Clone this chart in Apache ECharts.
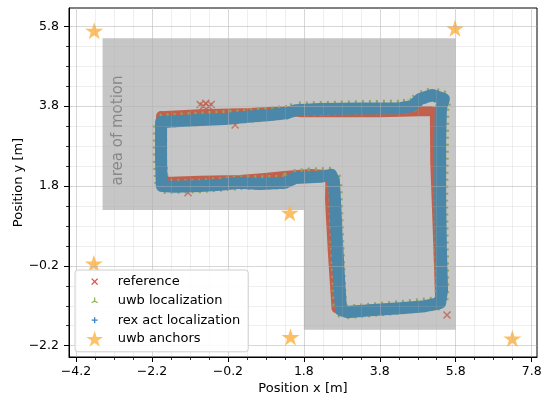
<!DOCTYPE html>
<html>
<head>
<meta charset="utf-8">
<script src="https://cdn.jsdelivr.net/npm/echarts@6/dist/echarts.min.js"></script>
<style>
  html, body { margin: 0; padding: 0; background: #fff; }
  #chart { width: 546px; height: 403px; }
</style>
</head>
<body>
<div id="chart"></div>
<script>
// Axis ranges and tick positions [m]
const xRange = [-4.384, 7.94];
const yRange = [-2.483, 6.258];
const xMajorTicks = [-4.2, -2.2, -0.2, 1.8, 3.8, 5.8, 7.8];
const xMinorTicks = [-3.7, -3.2, -2.7, -1.7, -1.2, -0.7, 0.3, 0.8, 1.3, 2.3, 2.8, 3.3, 4.3, 4.8, 5.3, 6.3, 6.8, 7.3];
const yMajorTicks = [-2.2, -0.2, 1.8, 3.8, 5.8];
const yMinorTicks = [-1.7, -1.2, -0.7, 0.3, 0.8, 1.3, 2.3, 2.8, 3.3, 4.3, 4.8, 5.3];

// Outline of the area the robot is allowed to move in
const motionArea = [[-3.5, 5.5], [5.8, 5.5], [5.8, -1.8], [1.8, -1.8], [1.8, 1.2], [-3.5, 1.2]];
const areaLabelAt = [-3.1, 3.19];

// Ground-truth reference trajectory
const referencePath = [
  [-1.96, 3.55], [-0.94, 3.60], [0.38, 3.63], [1.44, 3.68], [1.70, 3.65], [3.81, 3.65],
  [5.12, 3.68], [5.25, 3.65], [5.26, 2.40], [5.33, 0.60], [5.39, -1.06], [5.33, -1.18],
  [4.33, -1.26], [2.88, -1.33], [2.66, -1.26], [2.56, 0.20], [2.49, 1.45], [2.50, 2.07],
  [1.96, 2.10], [1.30, 2.05], [0.78, 2.00], [0.12, 1.95], [-0.94, 1.93], [-1.86, 1.90],
  [-1.96, 2.20], [-1.96, 3.55]
];
// Isolated reference fixes away from the main track
const referenceStray = [
  [-0.93, 3.84], [-0.85, 3.80], [-0.78, 3.87], [-0.70, 3.79], [-0.64, 3.84],
  [-0.01, 3.33], [5.57, -1.43], [-1.25, 1.63]
];

// UWB-only localization
const uwbPath = [
  [-1.99, 3.43], [-0.94, 3.48], [0.25, 3.55], [1.38, 3.65], [1.59, 3.73], [3.28, 3.77],
  [4.33, 3.78], [4.65, 3.83], [4.86, 4.00], [5.18, 4.10], [5.52, 4.00], [5.44, 3.75],
  [5.41, 1.45], [5.44, -0.81], [5.41, -1.13], [4.33, -1.24], [2.88, -1.36], [2.75, -1.31],
  [2.67, 0.45], [2.62, 1.95], [2.54, 2.10], [1.96, 2.08], [1.44, 2.03], [1.30, 1.90],
  [0.12, 1.88], [-0.94, 1.80], [-1.94, 1.78], [-1.99, 2.45], [-1.99, 3.43]
];

// REX-ACT localization
const rexActPath = [
  [-1.96, 3.40], [-1.46, 3.43], [-0.94, 3.45], [-0.28, 3.48], [0.25, 3.53], [0.91, 3.58],
  [1.38, 3.63], [1.59, 3.70], [2.23, 3.73], [3.28, 3.74], [4.33, 3.75], [4.65, 3.80],
  [4.86, 3.98], [5.18, 4.08], [5.49, 3.98], [5.41, 3.75], [5.39, 2.95], [5.39, 1.45],
  [5.41, 0.20], [5.44, -0.81], [5.39, -1.13], [4.99, -1.21], [4.33, -1.26], [3.54, -1.31],
  [2.94, -1.36], [2.78, -1.31], [2.73, -0.56], [2.67, 0.45], [2.62, 1.45], [2.59, 1.95],
  [2.52, 2.08], [2.23, 2.03], [1.57, 2.00], [1.30, 1.88], [0.65, 1.85], [0.12, 1.88],
  [-0.41, 1.83], [-0.94, 1.80], [-1.59, 1.78], [-1.94, 1.80], [-1.96, 2.45], [-1.96, 3.40]
];

// UWB anchor positions
const uwbAnchors = [
  [-3.72, 5.69], [5.78, 5.75], [1.43, 1.13], [-3.73, -0.14], [1.45, -1.98], [7.29, -2.02]
];

const FONT = '"DejaVu Sans", sans-serif';
const fmt = v => (v < 0 ? '\u2212' : '') + Math.abs(v).toFixed(1);

// Marker shapes
const crossSym = 'path://M0 0L10 10M10 0L0 10';
const starSym = 'path://M0 -100L22.45 -30.9L95.1 -30.9L36.3 11.8L58.8 80.9L0 38.2L-58.8 80.9L-36.3 11.8L-95.1 -30.9L-22.45 -30.9Z';
// Legend icons in a 36x16 box (leading moves fix the box extent)
const iconBox = 'M0 0M36 16';
const legendCross = 'path://' + iconBox + 'M15 5L21 11M21 5L15 11';
const legendTri = 'path://' + iconBox + 'M18 8L18 4.5M18 8L14.97 9.75M18 8L21.03 9.75';
const legendPlus = 'path://' + iconBox + 'M15 8L21 8M18 5L18 11';
const legendStar = 'path://' + iconBox + 'M18 0L19.98 6.11L26.41 6.11L21.21 9.88L23.2 16L18 12.22L12.8 16L14.79 9.88L9.59 6.11L16.02 6.11Z';

const RED_BAND = '#c2604e';
const GREEN_BAND = '#8ea65b';
const BLUE_BAND = '#4b87a8';
const GRID_MAJOR = 'rgba(176,176,176,0.5)';
const GRID_MINOR = 'rgba(176,176,176,0.2)';

function axisPair(dim) {
  const isX = dim === 'x';
  const range = isX ? xRange : yRange;
  const major = {
    type: 'value', gridIndex: 0, position: isX ? 'bottom' : 'left',
    min: range[0], max: range[1], z: 10,
    axisLine: { show: true, onZero: false, lineStyle: { color: '#000', width: 1 } },
    axisTick: { show: true, customValues: isX ? xMajorTicks : yMajorTicks, length: 5, lineStyle: { color: '#000', width: 1 } },
    axisLabel: { show: true, customValues: isX ? xMajorTicks : yMajorTicks, formatter: fmt,
      margin: isX ? 8 : 10, fontSize: 12.5, color: '#000', fontFamily: FONT },
    splitLine: { show: true, lineStyle: { color: GRID_MAJOR, width: 1 } },
    name: isX ? 'Position x [m]' : 'Position y [m]',
    nameLocation: 'middle', nameGap: isX ? 25 : 44, nameMoveOverlap: false,
    nameTextStyle: { fontSize: 13, color: '#000', fontFamily: FONT }
  };
  const minor = {
    type: 'value', gridIndex: 0, position: isX ? 'bottom' : 'left',
    min: range[0], max: range[1], z: 9,
    axisLine: { show: false, onZero: false },
    axisTick: { show: true, customValues: isX ? xMinorTicks : yMinorTicks, length: 3, lineStyle: { color: '#000', width: 0.8 } },
    axisLabel: { show: false },
    splitLine: { show: true, lineStyle: { color: GRID_MINOR, width: 1 } }
  };
  return [major, minor];
}

const band = (name, data, color, width, dash) => ({
  type: 'line', name, data, xAxisIndex: 0, yAxisIndex: 0,
  symbol: 'none', showSymbol: false, smooth: false,
  lineStyle: { color, width, cap: dash ? 'butt' : 'round', join: 'round', type: dash || 'solid' },
  itemStyle: { color }
});

const chart = echarts.init(document.getElementById('chart'), null, { renderer: 'canvas' });
chart.setOption({
  animation: false,
  backgroundColor: '#fff',
  grid: {
    left: 69, right: 9, top: 8, bottom: 46, outerBoundsMode: 'none',
    show: true, borderColor: '#000', borderWidth: 1, backgroundColor: 'transparent'
  },
  xAxis: axisPair('x'),
  yAxis: axisPair('y'),
  legend: {
    orient: 'vertical', left: 75, top: 270,
    padding: [3, 8, 5, 1], itemWidth: 36, itemHeight: 16, itemGap: 2,
    backgroundColor: 'rgba(255,255,255,0.85)', borderColor: '#cfcfcf', borderWidth: 1, borderRadius: 3,
    z: 20, selectedMode: false,
    textStyle: { fontSize: 13, color: '#000', fontFamily: FONT },
    data: [
      { name: 'reference', icon: legendCross, itemStyle: { color: 'rgba(0,0,0,0)', borderColor: '#e0493c', borderWidth: 1.3 } },
      { name: 'uwb localization', icon: legendTri, itemStyle: { color: 'rgba(0,0,0,0)', borderColor: '#86b84a', borderWidth: 1.2 } },
      { name: 'rex act localization', icon: legendPlus, itemStyle: { color: 'rgba(0,0,0,0)', borderColor: '#3a86c6', borderWidth: 1.3 } },
      { name: 'uwb anchors', icon: legendStar, itemStyle: { color: '#fbb84f', borderWidth: 0 } }
    ]
  },
  series: [
    {
      type: 'custom', name: 'area of motion', xAxisIndex: 0, yAxisIndex: 0,
      data: [motionArea[0]], silent: true, z: 1,
      renderItem(params, api) {
        const pts = motionArea.map(p => api.coord(p));
        const at = api.coord(areaLabelAt);
        return {
          type: 'group',
          children: [
            { type: 'polygon', shape: { points: pts }, style: { fill: '#c6c6c6' } },
            { type: 'text', x: at[0], y: at[1], rotation: Math.PI / 2,
              style: { text: 'area of motion', fill: '#878787', font: '15px "DejaVu Sans"', align: 'center', verticalAlign: 'middle' } }
          ]
        };
      }
    },
    band('reference', referencePath, RED_BAND, 10),
    {
      type: 'scatter', name: 'reference', data: referenceStray, xAxisIndex: 0, yAxisIndex: 0,
      symbol: crossSym, symbolSize: 7,
      itemStyle: { color: RED_BAND, borderColor: RED_BAND, borderWidth: 1.5 }
    },
    band('uwb localization', uwbPath, GREEN_BAND, 14.5, [2, 5]),
    band('rex act localization', rexActPath, BLUE_BAND, 12),
    {
      type: 'scatter', name: 'uwb anchors', data: uwbAnchors, xAxisIndex: 0, yAxisIndex: 0,
      symbol: starSym, symbolSize: [18, 17],
      itemStyle: { color: '#fbb44a', opacity: 0.85 }
    }
  ]
});
</script>
</body>
</html>
